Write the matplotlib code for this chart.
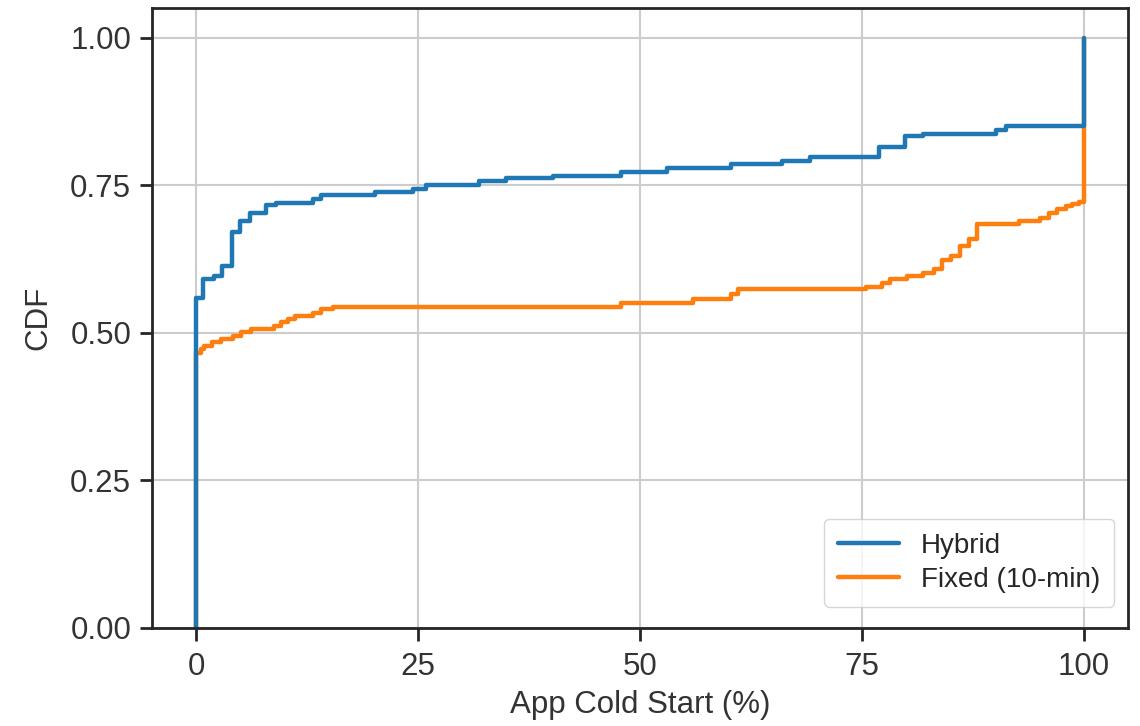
import matplotlib
matplotlib.use('Agg')
import matplotlib.pyplot as plt
import seaborn as sns

# step points (x = app cold start %, y = CDF)
hybrid_x = [0, 0, 0.8, 2.0, 2.9, 4.0, 4.9, 6.0, 7.9, 9.0, 13.1, 14.1, 20.1, 24.4,
            25.9, 31.9, 34.9, 40.2, 47.9, 53.0, 60.2, 66.0, 69.2, 76.9, 79.9,
            81.9, 90.1, 91.2, 100]
hybrid_y = [0.0, 0.559, 0.591, 0.596, 0.613, 0.671, 0.690, 0.702, 0.716, 0.720,
            0.726, 0.733, 0.738, 0.743, 0.750, 0.757, 0.762, 0.766, 0.772, 0.779,
            0.786, 0.791, 0.797, 0.814, 0.833, 0.837, 0.844, 0.850, 1.0]

fixed_x = [0, 0, 0.5, 0.9, 1.8, 2.8, 4.1, 5.0, 6.2, 8.8, 9.5, 10.3, 11.1, 13.1,
           14.1, 15.4, 47.9, 56.0, 60.2, 61.0, 75.5, 77.3, 78.2, 80.1, 81.9,
           83.1, 84.0, 85.0, 86.1, 87.1, 88.0, 92.7, 95.1, 96.1, 97.0, 98.0,
           98.7, 99.5, 100]
fixed_y = [0.0, 0.465, 0.472, 0.478, 0.484, 0.489, 0.495, 0.501, 0.506, 0.512,
           0.518, 0.523, 0.529, 0.534, 0.540, 0.544, 0.550, 0.557, 0.566, 0.574,
           0.578, 0.584, 0.591, 0.596, 0.602, 0.608, 0.624, 0.630, 0.647, 0.658,
           0.684, 0.690, 0.695, 0.703, 0.709, 0.714, 0.718, 0.721, 1.0]

sns.set_theme(style='ticks')
plt.rcParams['font.family'] = ['Liberation Sans', 'DejaVu Sans']

fig = plt.figure(figsize=(11.4, 7.26), dpi=100)
ax = fig.add_axes([0.1333, 0.135, 0.8562, 0.854])

# seaborn draws the first hue level on top, so fixed goes down first
l2, = ax.plot(fixed_x, fixed_y, drawstyle='steps-post', color='#ff7f0e', lw=3.2)
l1, = ax.plot(hybrid_x, hybrid_y, drawstyle='steps-post', color='#1f77b4', lw=3.2)

ax.set_xlim(-5, 105)
ax.set_ylim(0, 1.05)
ax.set_xticks([0, 25, 50, 75, 100])
ax.set_yticks([0, 0.25, 0.5, 0.75, 1.0])
ax.set_yticklabels(['0.00', '0.25', '0.50', '0.75', '1.00'])
ax.grid(True, color='#cccccc', lw=1.5)
ax.set_axisbelow(True)

ax.tick_params(labelsize=22.5, length=9, width=2, colors='#262626', pad=6)
ax.tick_params(axis='y', labelcolor='#333333')
ax.tick_params(axis='x', labelcolor='#333333', pad=8)
for s in ax.spines.values():
    s.set_linewidth(2)
    s.set_color('#262626')

ax.set_xlabel('App Cold Start (%)', fontsize=22.5, color='#333333', labelpad=6)
ax.set_ylabel('CDF', fontsize=22.5, color='#333333', labelpad=12)

ax.legend([l1, l2], ['Hybrid', 'Fixed (10-min)'], loc='lower right', fontsize=20,
          frameon=True, handlelength=2.2, borderpad=0.5, labelspacing=0.3,
          borderaxespad=0, bbox_to_anchor=(0.986, 0.034))

fig.savefig('out.png', dpi=100)
